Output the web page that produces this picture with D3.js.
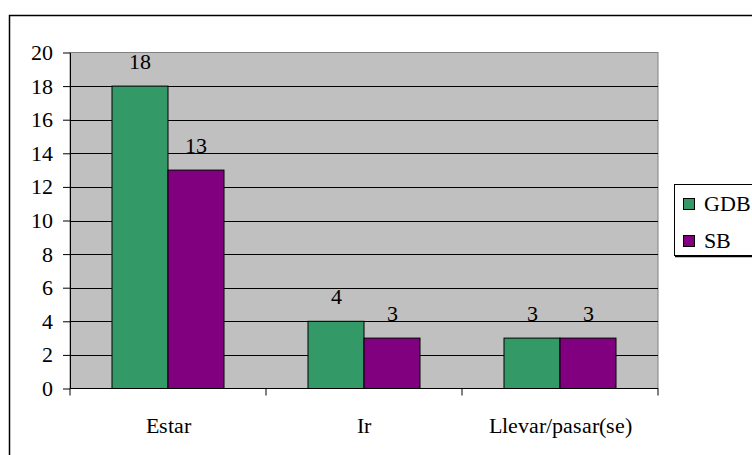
<!DOCTYPE html>
<html>
<head>
<meta charset="utf-8">
<script src="https://cdn.jsdelivr.net/npm/d3@7"></script>
<style>
  @font-face { font-family: "ChartSerif"; src: local("Liberation Serif"), local("LiberationSerif"), local("Liberation Serif Regular"), local("LiberationSerif-Regular"); }
  html, body { margin: 0; padding: 0; background: #fff; font-family: "ChartSerif", "Liberation Serif", serif; }
  svg { display: block; }
  svg text, .lbl { font-family: "ChartSerif", "Liberation Serif", serif !important; }
</style>
</head>
<body>
<svg id="chart" width="752" height="455"></svg>
<script>
// Verb categories and counts per corpus
const categories = ["Estar", "Ir", "Llevar/pasar(se)"];
const seriesNames = ["GDB", "SB"];
const gdbValues = [18, 4, 3];
const sbValues = [13, 3, 3];
const yTicks = [0, 2, 4, 6, 8, 10, 12, 14, 16, 18, 20];
const seriesColors = ["#339966", "#800080"];

const fontSize = 22;
const svg = d3.select("#chart");
const W = 752, H = 455;
const plot = { left: 70, right: 658, top: 52.5, bottom: 388.5 };

// Outer frame (right and bottom edges run past the canvas)
svg.append("rect")
  .attr("x", 9.5).attr("y", 15.5)
  .attr("width", W + 10).attr("height", H + 10)
  .attr("fill", "none").attr("stroke", "#000").attr("stroke-width", 1.5);

const x0 = d3.scaleBand().domain(categories).range([plot.left, plot.right]);
// Excel-style 150% gap width: each bar = band / 3.5
const x1 = d3.scaleBand().domain(seriesNames)
  .range([0, x0.bandwidth() * 2 / 3.5]);
const groupOffset = x0.bandwidth() * 0.75 / 3.5;
const y = d3.scaleLinear().domain([0, 20]).range([plot.bottom, plot.top]);

// Plot background
svg.append("rect")
  .attr("x", plot.left).attr("y", plot.top)
  .attr("width", plot.right - plot.left).attr("height", plot.bottom - plot.top)
  .attr("fill", "#c0c0c0").attr("stroke", "#808080").attr("stroke-width", 1);

// Horizontal gridlines
svg.append("g").selectAll("line")
  .data(yTicks.filter(t => t > 0 && t < 20))
  .join("line")
  .attr("x1", plot.left).attr("x2", plot.right)
  .attr("y1", d => Math.round(y(d)) + 0.5).attr("y2", d => Math.round(y(d)) + 0.5)
  .attr("stroke", "#000").attr("stroke-width", 1);

// Y axis
const yAxis = svg.append("g")
  .attr("transform", `translate(${plot.left},0)`)
  .call(d3.axisLeft(y).tickValues(yTicks).tickSize(7).tickPadding(10).tickSizeOuter(0));
yAxis.attr("font-family", null).attr("font-size", fontSize);
yAxis.select(".domain").attr("stroke", "#000");
yAxis.selectAll(".tick line").attr("stroke", "#000");
yAxis.selectAll("text").attr("fill", "#000").attr("class", "lbl");

// X axis with ticks between categories
const xAxisG = svg.append("g").attr("transform", `translate(0,${plot.bottom})`);
xAxisG.append("line")
  .attr("x1", plot.left).attr("x2", plot.right)
  .attr("stroke", "#000");
const boundaries = categories.map(c => x0(c)).concat([x0(categories[categories.length - 1]) + x0.bandwidth()]);
xAxisG.selectAll("line.tk").data(boundaries).join("line").attr("class", "tk")
  .attr("x1", d => d).attr("x2", d => d).attr("y1", 0).attr("y2", 7)
  .attr("stroke", "#000");
xAxisG.selectAll("text").data(categories).join("text")
  .attr("class", "lbl")
  .attr("x", d => x0(d) + x0.bandwidth() / 2)
  .attr("y", 44)
  .attr("text-anchor", "middle")
  .attr("font-size", fontSize)
  .text(d => d);

// Bars
const rows = categories.map((c, i) => ({ cat: c, values: [gdbValues[i], sbValues[i]] }));
const groups = svg.append("g").selectAll("g")
  .data(rows).join("g")
  .attr("transform", d => `translate(${x0(d.cat) + groupOffset},0)`);

groups.selectAll("rect")
  .data(d => d.values.map((v, j) => ({ name: seriesNames[j], v, color: seriesColors[j] })))
  .join("rect")
  .attr("x", d => x1(d.name))
  .attr("y", d => y(d.v))
  .attr("width", x1.bandwidth())
  .attr("height", d => y(0) - y(d.v))
  .attr("fill", d => d.color)
  .attr("stroke", "#000").attr("stroke-width", 1);

groups.selectAll("text")
  .data(d => d.values.map((v, j) => ({ name: seriesNames[j], v })))
  .join("text")
  .attr("class", "lbl")
  .attr("x", d => x1(d.name) + x1.bandwidth() / 2)
  .attr("y", d => y(d.v) - 17)
  .attr("text-anchor", "middle")
  .attr("font-size", fontSize)
  .text(d => d.v);

// Legend
const legend = svg.append("g");
legend.append("rect")
  .attr("x", 674.5).attr("y", 184.5).attr("width", 100).attr("height", 71)
  .attr("fill", "#fff").attr("stroke", "#000").attr("stroke-width", 1);
legend.append("line")
  .attr("x1", 675).attr("x2", 760).attr("y1", 256.5).attr("y2", 256.5)
  .attr("stroke", "#000").attr("stroke-width", 1.5);
const items = legend.selectAll("g").data(seriesNames).join("g")
  .attr("transform", (d, i) => `translate(683.5,${198.5 + i * 37})`);
items.append("rect")
  .attr("width", 11).attr("height", 11)
  .attr("fill", (d, i) => seriesColors[i])
  .attr("stroke", "#000").attr("stroke-width", 1);
items.append("text")
  .attr("class", "lbl")
  .attr("x", 20).attr("y", 12.5)
  .attr("font-size", fontSize)
  .text(d => d);
</script>
</body>
</html>
